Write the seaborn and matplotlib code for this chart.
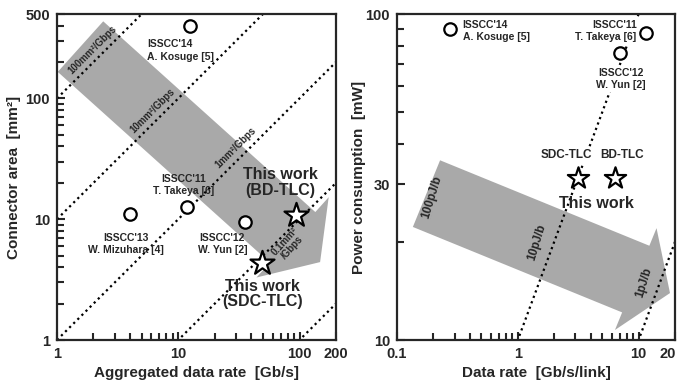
import numpy as np
import pandas as pd
import matplotlib
matplotlib.use("Agg")
import matplotlib.pyplot as plt
import seaborn as sns
from matplotlib.patches import Polygon
from matplotlib.transforms import ScaledTranslation
from matplotlib.ticker import FixedLocator, FixedFormatter, LogLocator, NullFormatter

# ---------------- data ----------------
# Left panel: connector area vs aggregated data rate
prior_rate_l = [12.6, 4.0, 11.9, 35.8]
prior_area = [400.0, 11.0, 12.6, 9.4]
this_rate_l = [92.7, 49.4]
this_area = [10.8, 4.3]
area_slopes = [100, 10, 1, 0.1, 0.01]          # mm^2/Gbps iso-lines
left_xticks = [1, 10, 100, 200]
left_yticks = [1, 10, 100, 500]

# Right panel: power vs data rate per link
prior_rate_r = [0.273, 11.6, 6.98]
prior_power = [90.0, 87.5, 75.9]
this_rate_r = [3.15, 6.34]
this_power = [31.4, 31.4]
energy_slopes = [100, 10, 1]                   # pJ/b iso-lines
right_xticks = [0.1, 1, 10, 20]
right_yticks = [10, 30, 100]

sns.set_style("ticks")
plt.rcParams['font.family'] = ['Liberation Sans', 'DejaVu Sans']
plt.rcParams['font.weight'] = 'bold'
plt.rcParams['axes.labelweight'] = 'bold'

fig = plt.figure(figsize=(6.81, 3.89), dpi=100)
axL = fig.add_axes([57/681, 49/389, 279/681, 326/389])
axR = fig.add_axes([397/681, 49/389, 278/681, 326/389])

ARROW = '#a9a9a9'

def add_arrow(ax, tail, tip, body_hw, head_hw, head_len, w_px, h_px):
    t = np.array([tail[0]*w_px, tail[1]*h_px])
    p = np.array([tip[0]*w_px, tip[1]*h_px])
    d = p - t
    u = d/np.linalg.norm(d)
    n = np.array([-u[1], u[0]])
    b = p - head_len*u
    pts = np.array([t + body_hw*n, b + body_hw*n, b + head_hw*n, p,
                    b - head_hw*n, b - body_hw*n, t - body_hw*n])
    pts = pts/np.array([w_px, h_px])
    ax.add_patch(Polygon(pts, closed=True, transform=ax.transAxes,
                         fc=ARROW, ec='none', zorder=1))

def style_axis(ax, xt, yt, xlim, ylim):
    ax.set_xscale('log'); ax.set_yscale('log')
    ax.set_xlim(*xlim); ax.set_ylim(*ylim)
    ax.xaxis.set_major_locator(FixedLocator(xt))
    ax.xaxis.set_major_formatter(FixedFormatter([f"{v:g}" for v in xt]))
    ax.yaxis.set_major_locator(FixedLocator(yt))
    ax.yaxis.set_major_formatter(FixedFormatter([f"{v:g}" for v in yt]))
    ax.xaxis.set_minor_locator(LogLocator(base=10, subs=np.arange(2, 10)))
    ax.yaxis.set_minor_locator(LogLocator(base=10, subs=np.arange(2, 10)))
    ax.xaxis.set_minor_formatter(NullFormatter())
    ax.yaxis.set_minor_formatter(NullFormatter())
    ax.tick_params(which='major', direction='in', length=6, width=1.5,
                   labelsize=10.5, pad=5)
    ax.tick_params(which='minor', direction='in', length=5, width=1.5)
    for s in ax.spines.values():
        s.set_linewidth(1.6)
        s.set_visible(True)
    for lab in ax.get_xticklabels() + ax.get_yticklabels():
        lab.set_fontweight('bold')

# ---------------- left panel ----------------
style_axis(axL, left_xticks, left_yticks, (1, 200), (1, 500))
add_arrow(axL, (0.0842, 0.900), (0.943, 0.239), 34, 54, 37, 279, 326)

xl = np.array([1, 200])
for k in area_slopes:
    axL.plot(xl, k*xl, ls=(0, (1, 1.6)), lw=1.6, color='black', zorder=2)

dfL_prior = pd.DataFrame({'rate': prior_rate_l, 'area': prior_area})
dfL_this = pd.DataFrame({'rate': this_rate_l, 'area': this_area})
sns.scatterplot(data=dfL_prior, x='rate', y='area', ax=axL, marker='o', s=80,
                color='white', edgecolor='black', linewidth=1.6, zorder=5, legend=False)
sns.scatterplot(data=dfL_this, x='rate', y='area', ax=axL, marker='*', s=330,
                color='white', edgecolor='black', linewidth=1.6, zorder=5, legend=False)

sm = 7.5
axL.text(5.55, 250, "ISSCC'14\nA. Kosuge [5]", ha='left', va='center', fontsize=sm, fontweight='bold', linespacing=1.3)
axL.text(11.0, 19.1, "ISSCC'11\nT. Takeya [6]", ha='center', va='center', fontsize=sm, fontweight='bold', linespacing=1.3)
axL.text(3.72, 6.2, "ISSCC'13\nW. Mizuhara [4]", ha='center', va='center', fontsize=sm, fontweight='bold', linespacing=1.3)
axL.text(23.1, 6.2, "ISSCC'12\nW. Yun [2]", ha='center', va='center', fontsize=sm, fontweight='bold', linespacing=1.3)
axL.text(69.8, 20.2, "This work\n(BD-TLC)", ha='center', va='center', fontsize=11.5, fontweight='bold', linespacing=1.05)
axL.text(49.4, 2.4, "This work\n(SDC-TLC)", ha='center', va='center', fontsize=11.5, fontweight='bold', linespacing=1.05)
axL.text(1.97, 254, "100mm²/Gbps", rotation=45, ha='center', va='center', fontsize=7, fontweight='bold')
axL.text(6.16, 78.7, "10mm²/Gbps", rotation=45, ha='center', va='center', fontsize=7, fontweight='bold')
axL.text(29.9, 39, "1mm²/Gbps", rotation=45, ha='center', va='center', fontsize=7, fontweight='bold')
axL.text(81.3, 6.2, "0.1mm²\n/Gbps", rotation=48, ha='center', va='center', fontsize=7, fontweight='bold', linespacing=1.0)

axL.set_xlabel("Aggregated data rate  [Gb/s]", fontsize=11, fontweight='bold', labelpad=4)
axL.set_ylabel("Connector area  [mm²]", fontsize=11, fontweight='bold', labelpad=3)

# ---------------- right panel ----------------
style_axis(axR, right_xticks, right_yticks, (0.1, 20), (10, 100))
add_arrow(axR, (0.106, 0.449), (0.982, 0.144), 36, 55, 37, 278, 326)

xr = np.array([0.1, 20])
for e in energy_slopes:
    axR.plot(xr, e*xr/10, ls=(0, (1, 1.6)), lw=1.6, color='black', zorder=2)

dfR_prior = pd.DataFrame({'rate': prior_rate_r, 'power': prior_power})
dfR_this = pd.DataFrame({'rate': this_rate_r, 'power': this_power})
sns.scatterplot(data=dfR_prior, x='rate', y='power', ax=axR, marker='o', s=80,
                color='white', edgecolor='black', linewidth=1.6, zorder=5, legend=False)
sns.scatterplot(data=dfR_this, x='rate', y='power', ax=axR, marker='*', s=260,
                color='white', edgecolor='black', linewidth=1.6, zorder=5, legend=False)

wb = dict(fc='white', ec='none', pad=1.0)
axR.text(0.349, 88.7, "ISSCC'14\nA. Kosuge [5]", ha='left', va='center', fontsize=sm, fontweight='bold', linespacing=1.3, bbox=wb, zorder=4)
axR.text(9.63, 88.7, "ISSCC'11\nT. Takeya [6]", ha='right', va='center', fontsize=sm, fontweight='bold', linespacing=1.3, bbox=wb, zorder=4)
axR.text(7.11, 63.2, "ISSCC'12\nW. Yun [2]", ha='center', va='center', fontsize=sm, fontweight='bold', linespacing=1.3, bbox=wb, zorder=4)
axR.text(2.51, 36.9, "SDC-TLC", ha='center', va='center', fontsize=8.5, fontweight='bold', bbox=wb, zorder=4)
axR.text(7.25, 36.9, "BD-TLC", ha='center', va='center', fontsize=8.5, fontweight='bold', bbox=wb, zorder=4)
axR.text(4.51, 26.3, "This work", ha='center', va='center', fontsize=11.5, fontweight='bold', zorder=4)
axR.text(0.196, 27.4, "100pJ/b", rotation=73, ha='center', va='center', fontsize=8.5, fontweight='bold', zorder=4)
axR.text(1.45, 20.0, "10pJ/b", rotation=73, ha='center', va='center', fontsize=8.5, fontweight='bold', zorder=4)
axR.text(11.0, 14.96, "1pJ/b", rotation=73, ha='center', va='center', fontsize=8.5, fontweight='bold', zorder=4)

axR.set_xlabel("Data rate  [Gb/s/link]", fontsize=11, fontweight='bold', labelpad=4)
axR.set_ylabel("Power consumption  [mW]", fontsize=11, fontweight='bold', labelpad=0)

# keep the last right-hand tick label inside the canvas
last = axR.get_xticklabels()[-1]
last.set_transform(last.get_transform() + ScaledTranslation(-5/72, 0, fig.dpi_scale_trans))

fig.savefig("out.png", dpi=100)
